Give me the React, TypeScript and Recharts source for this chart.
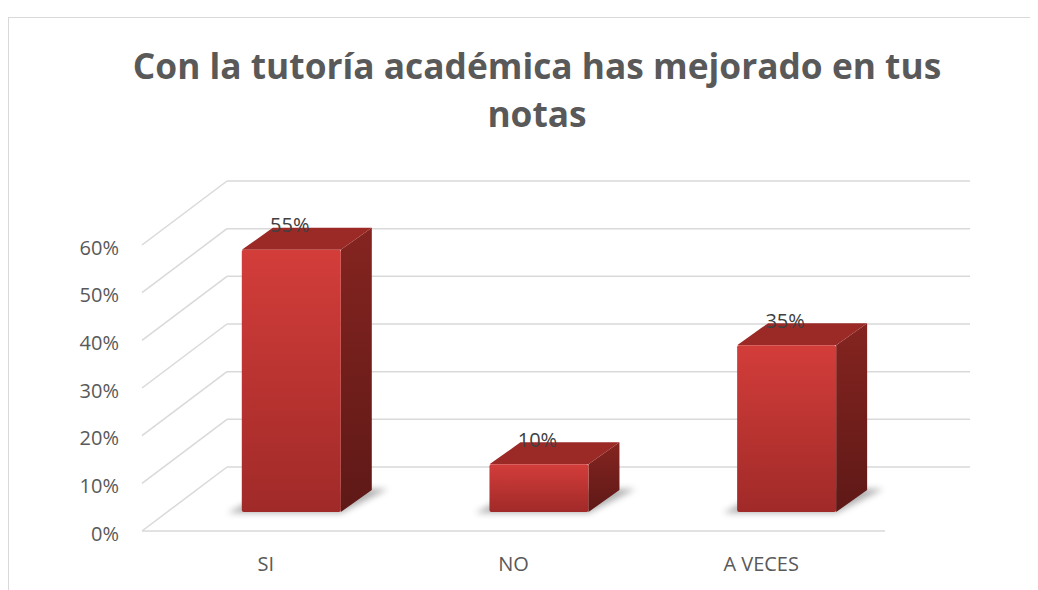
import React from "react";
import { BarChart, Bar, XAxis, YAxis, CartesianGrid, ReferenceLine, LabelList } from "recharts";

const categories = ["SI", "NO", "A VECES"];
const values = [0.55, 0.1, 0.35];
const yTicks = [0, 0.1, 0.2, 0.3, 0.4, 0.5, 0.6];
const titleLines = ["Con la tutoría académica has mejorado en tus", "notas"];

const data = categories.map((name, i) => ({ name, value: values[i] }));

// depth of the 3d box (back wall offset) and of the bars
const WALL_DX = 85;
const WALL_DY = -64;
const BAR_OX = 25.5;
const BAR_OY = -19;
const BAR_DX = 31;
const BAR_DY = -22;

const GRID = "#d9d9d9";
const FONT = "'Open Sans', sans-serif";

const pct = (v: number) => `${Math.round(v * 100)}%`;

function WallLine(props: any) {
  const { x1, y1, x2 } = props;
  return (
    <g>
      <line x1={x1} y1={y1} x2={x1 + WALL_DX} y2={y1 + WALL_DY} stroke={GRID} strokeWidth={1.5} />
      <line x1={x1 + WALL_DX} y1={y1 + WALL_DY} x2={x2 + WALL_DX} y2={y1 + WALL_DY} stroke={GRID} strokeWidth={1.5} />
    </g>
  );
}

function Box3D(props: any) {
  const { x, y, width, height } = props;
  if (width == null || height == null) return null;
  const fx = x + BAR_OX;
  const fy = y + BAR_OY;
  const fb = y + height + BAR_OY;
  const rx = fx + width;
  const top = `${fx},${fy} ${fx + BAR_DX},${fy + BAR_DY} ${rx + BAR_DX},${fy + BAR_DY} ${rx},${fy}`;
  const side = `${rx},${fy} ${rx + BAR_DX},${fy + BAR_DY} ${rx + BAR_DX},${fb + BAR_DY} ${rx},${fb}`;
  const shadow = `${fx - 14},${fb + 1} ${rx},${fb + 1} ${rx + BAR_DX + 16},${fb + BAR_DY - 1} ${fx + BAR_DX},${fb + BAR_DY - 1}`;
  return (
    <g>
      <defs>
        <linearGradient id="frontGrad" x1="0" y1="0" x2="0" y2="1">
          <stop offset="0%" stopColor="#d33d3a" />
          <stop offset="100%" stopColor="#a02a28" />
        </linearGradient>
        <linearGradient id="sideGrad" x1="0" y1="0" x2="0" y2="1">
          <stop offset="0%" stopColor="#852420" />
          <stop offset="100%" stopColor="#5e1917" />
        </linearGradient>
        <filter id="shadowBlur" x="-20%" y="-50%" width="140%" height="200%">
          <feGaussianBlur stdDeviation="3" />
        </filter>
      </defs>
      <polygon points={shadow} fill="#6f6f6f" opacity={0.55} filter="url(#shadowBlur)" />
      <polygon points={side} fill="url(#sideGrad)" />
      <polygon points={top} fill="#9b2a27" />
      <rect x={fx} y={fy} width={width} height={fb - fy} fill="url(#frontGrad)" rx={2} />
    </g>
  );
}

function ValueLabel(props: any) {
  const { x, y, width, value } = props;
  return (
    <text x={x + width / 2 + 24} y={y - 44} textAnchor="middle" dominantBaseline="central"
      fill="#404040" fontSize={20} fontFamily={FONT}>
      {pct(value)}
    </text>
  );
}

function XTick(props: any) {
  const { x, y, payload } = props;
  return (
    <text x={x} y={y + 32} textAnchor="middle" dominantBaseline="central" fill="#595959" fontSize={20} fontFamily={FONT}>
      {payload.value}
    </text>
  );
}

function YTick(props: any) {
  const { x, y, payload } = props;
  return (
    <text x={x - 23} y={y + 2} textAnchor="end" dominantBaseline="central" fill="#595959" fontSize={20} fontFamily={FONT}>
      {pct(payload.value)}
    </text>
  );
}

export default function App() {
  return (
    <div style={{ position: "relative", width: 1030, height: 582, fontFamily: FONT }}>
      <div style={{ position: "absolute", left: 0, top: 9, width: 1029, height: 572, borderTop: `1px solid ${GRID}`, borderLeft: `1px solid ${GRID}` }} />
      <svg width={1030} height={140} style={{ position: "absolute", left: 0, top: 0 }}>
        {titleLines.map((t, i) => (
          <text key={i} x={529} y={71 + i * 48} textAnchor="middle" fill="#595959" fontSize={35.3} fontWeight="bold" fontFamily={FONT}>
            {t}
          </text>
        ))}
      </svg>
      <div style={{ position: "absolute", left: 0, top: 0 }}>
        <BarChart width={1030} height={582} data={data} margin={{ top: 237, right: 153, bottom: 0, left: 0 }} barCategoryGap="30%">
          <CartesianGrid horizontal={WallLine} vertical={false} />
          <XAxis dataKey="name" axisLine={false} tickLine={false} tickSize={0} tickMargin={0} height={59} tick={XTick} interval={0} />
          <YAxis domain={[0, 0.6]} ticks={yTicks} axisLine={false} tickLine={false} tickSize={0} tickMargin={0} width={134} tick={YTick} />
          <ReferenceLine y={0} stroke={GRID} strokeWidth={1.5} />
          <Bar dataKey="value" shape={Box3D} isAnimationActive={false}>
            <LabelList dataKey="value" content={ValueLabel} />
          </Bar>
        </BarChart>
      </div>
    </div>
  );
}
